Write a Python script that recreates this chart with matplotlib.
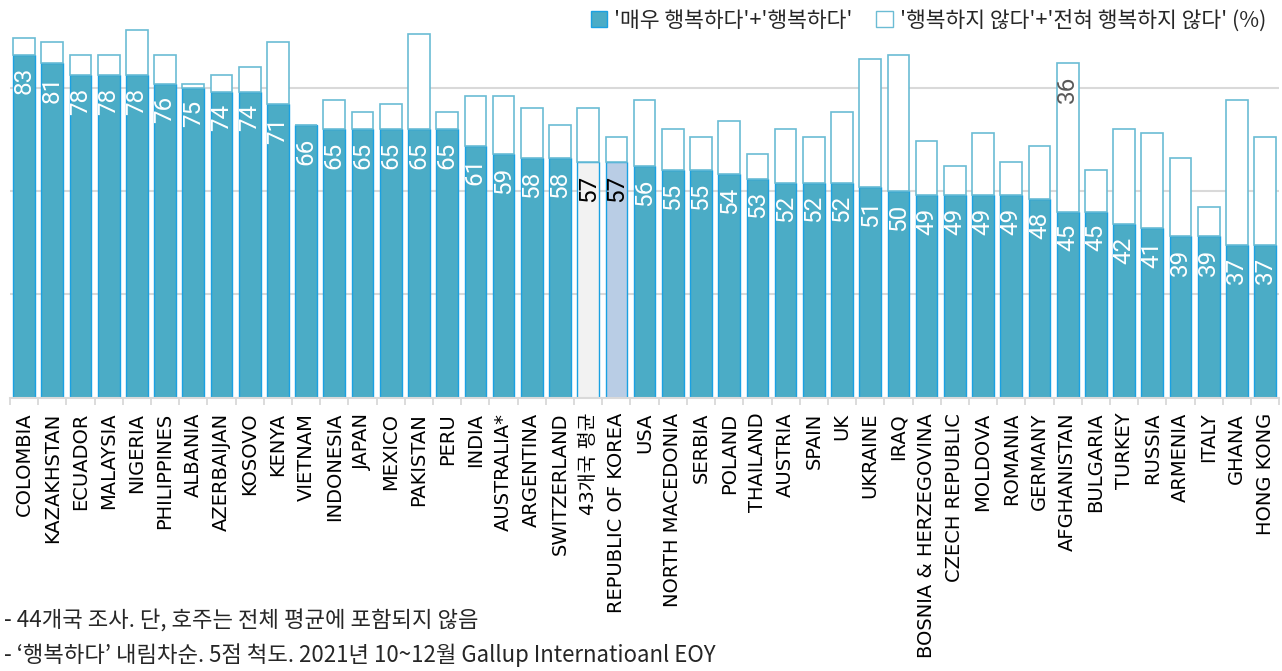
import matplotlib
matplotlib.use("Agg")
import matplotlib.pyplot as plt
from matplotlib.patches import Patch
import numpy as np

# data
countries = ['COLOMBIA', 'KAZAKHSTAN', 'ECUADOR', 'MALAYSIA', 'NIGERIA', 'PHILIPPINES',
             'ALBANIA', 'AZERBAIJAN', 'KOSOVO', 'KENYA', 'VIETNAM', 'INDONESIA', 'JAPAN',
             'MEXICO', 'PAKISTAN', 'PERU', 'INDIA', 'AUSTRALIA*', 'ARGENTINA', 'SWITZERLAND',
             '43개국 평균', 'REPUBLIC OF KOREA', 'USA', 'NORTH MACEDONIA', 'SERBIA', 'POLAND',
             'THAILAND', 'AUSTRIA', 'SPAIN', 'UK', 'UKRAINE', 'IRAQ', 'BOSNIA & HERZEGOVINA',
             'CZECH REPUBLIC', 'MOLDOVA', 'ROMANIA', 'GERMANY', 'AFGHANISTAN', 'BULGARIA',
             'TURKEY', 'RUSSIA', 'ARMENIA', 'ITALY', 'GHANA', 'HONG KONG']
happy = [83, 81, 78, 78, 78, 76, 75, 74, 74, 71, 66, 65, 65, 65, 65, 65, 61, 59, 58, 58,
         57, 57, 56, 55, 55, 54, 53, 52, 52, 52, 51, 50, 49, 49, 49, 49, 48, 45, 45, 42,
         41, 39, 39, 37, 37]
unhappy = [4, 5, 5, 5, 11, 7, 1, 4, 6, 15, 0, 7, 4, 6, 23, 4, 12, 14, 12, 8,
           13, 6, 16, 10, 8, 13, 6, 13, 11, 17, 31, 33, 13, 7, 15, 8, 13, 36, 10, 23,
           23, 19, 7, 35, 26]
legend_labels = ["'매우 행복하다'+'행복하다'", "'행복하지 않다'+'전혀 행복하지 않다' (%)"]
notes = ["- 44개국 조사. 단, 호주는 전체 평균에 포함되지 않음",
         "- \u2018행복하다\u2019 내림차순. 5점 척도. 2021년 10~12월 Gallup Internatioanl EOY"]

BLUE = '#4bacc6'
EDGE = '#1ba1e2'
WEDGE = '#6bbcd4'

plt.rcParams['font.family'] = ['DejaVu Sans', 'Noto Sans CJK KR']

fig = plt.figure(figsize=(12.82, 6.71), dpi=100)
ax = fig.add_axes([0.0078, 0.4076, 0.99, 0.5664])

x = np.arange(len(countries))
fills = [BLUE] * len(countries)
fills[20] = '#f2f2f2'
fills[21] = '#b9cde5'

ax.bar(x, happy, width=0.77, color=fills, edgecolor=EDGE, linewidth=1, zorder=2)
ax.bar(x, unhappy, bottom=happy, width=0.77, color='white', edgecolor=WEDGE,
       linewidth=1.2, zorder=2)

for i, v in enumerate(happy):
    col = 'black' if i in (20, 21) else 'white'
    ax.annotate(str(v), (i, v), xytext=(0, -9), textcoords='offset points',
                rotation=90, ha='center', va='top', color=col, fontsize=17.5,
                family='Roboto', zorder=3)
# only the Afghanistan negative share is labelled
ia = countries.index('AFGHANISTAN')
ax.annotate(str(unhappy[ia]), (ia, happy[ia] + unhappy[ia]), xytext=(0, -9),
            textcoords='offset points', rotation=90, ha='center', va='top',
            color='#595959', fontsize=17.5, family='Roboto', zorder=3)

ax.set_xlim(-0.5, len(countries) - 0.5)
ax.set_ylim(0, 92)
ax.set_yticks([25, 50, 75])
ax.yaxis.grid(True, color='#d9d9d9', linewidth=1.5)
ax.set_axisbelow(True)
ax.tick_params(axis='y', length=0, labelleft=False)

ax.set_xticks(x)
ax.set_xticklabels(countries, rotation=90, fontsize=14, va='top', ha='center')
ax.set_xticks(np.arange(len(countries) + 1) - 0.5, minor=True)
ax.tick_params(axis='x', which='major', length=0, pad=11)
ax.tick_params(axis='x', which='minor', length=5, color='#d9d9d9', width=1.3)

for s in ['top', 'right', 'left']:
    ax.spines[s].set_visible(False)
ax.spines['bottom'].set_color('#d9d9d9')
ax.spines['bottom'].set_linewidth(1.5)

handles = [Patch(facecolor=BLUE, edgecolor=EDGE, label=legend_labels[0]),
           Patch(facecolor='white', edgecolor=WEDGE, label=legend_labels[1])]
fig.legend(handles=handles, loc='upper right', bbox_to_anchor=(1.003, 1.015), ncol=2,
           frameon=False, handlelength=0.75, handleheight=0.75,
           handletextpad=0.35, columnspacing=1.1, labelcolor='#262626',
           prop={'family': ['Noto Sans CJK KR'], 'size': 15.5})

fig.text(0.003, 0.076, notes[0], fontsize=16, family=['Noto Sans CJK KR'],
         va='center', color='#262626')
fig.text(0.003, 0.024, notes[1], fontsize=16, family=['Noto Sans CJK KR'],
         va='center', color='#262626')

fig.savefig('out.png', dpi=100)
